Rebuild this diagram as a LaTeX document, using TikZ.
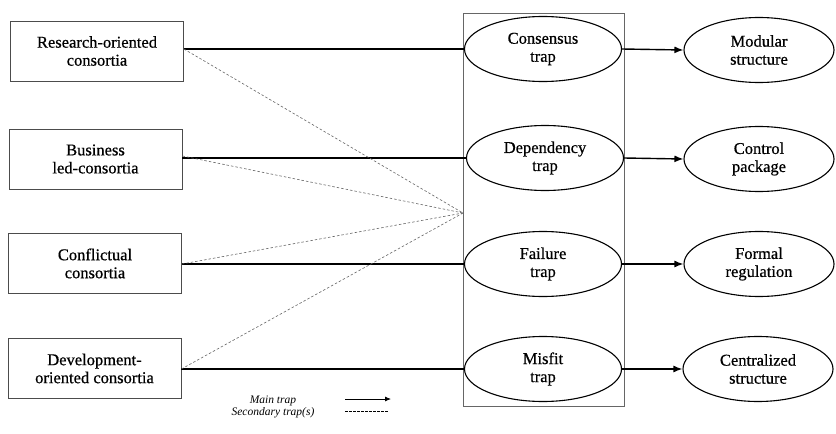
\documentclass[tikz,border=0pt]{standalone}
\usepackage{fontspec}
\setmainfont{Liberation Serif}
\newfontfamily\labelfont{Liberation Serif}[FakeBold=0.6]
\usetikzlibrary{shapes.geometric,arrows.meta}
\begin{document}
\begin{tikzpicture}[x=1pt,y=-1pt,
  srcbox/.style={draw=black!70,line width=0.8pt,rectangle,minimum width=173pt,minimum height=60pt,align=center,font=\labelfont\fontsize{16.5}{18}\selectfont,inner sep=0pt},
  trapell/.style={draw=black,line width=1.1pt,ellipse,minimum width=157pt,minimum height=65pt,align=center,font=\labelfont\fontsize{16.5}{18}\selectfont,inner sep=0pt},
  outell/.style={draw=black,line width=1.1pt,ellipse,minimum width=150pt,minimum height=65pt,align=center,font=\labelfont\fontsize{16.5}{18}\selectfont,inner sep=0pt},
  mainline/.style={draw=black,line width=1.4pt},
  mainarrow/.style={draw=black,line width=1.4pt,-{Latex[length=9pt,width=7pt]}},
  secline/.style={draw=black!60,line width=0.6pt,dash pattern=on 2.5pt off 2pt},
  legtext/.style={font=\fontsize{11.5}{12}\selectfont\itshape,inner sep=0pt}
]
\path[fill=white,use as bounding box] (0,0) rectangle (836,434);
\draw[draw=black!60,line width=0.8pt] (463,13) rectangle (624,406);

\node[srcbox] (r) at (97,51) {Research-oriented\\consortia};
\node[srcbox] (b) at (95.5,159) {Business\\led-consortia};
\node[srcbox] (c) at (95,263.5) {Conflictual\\consortia};
\node[srcbox] (d) at (94.5,368.5) {Development-\\oriented consortia};

\node[trapell] (t1) at (543,49) {Consensus\\trap};
\node[trapell] (t2) at (545,158) {Dependency\\trap};
\node[trapell] (t3) at (543,264) {Failure\\trap};
\node[trapell] (t4) at (543,369) {Misfit\\trap};

\node[outell] (o1) at (759,50) {Modular\\structure};
\node[outell] (o2) at (759,159) {Control\\package};
\node[outell] (o3) at (759,264) {Formal\\regulation};
\node[outell] (o4) at (758,369) {Centralized\\structure};

\coordinate (conv) at (463,213);

\draw[mainline] (r.east |- t1.west) -- (t1.west);
\draw[mainline] (b.east |- t2.west) -- (t2.west);
\draw[mainline] (c.east |- t3.west) -- (t3.west);
\draw[mainline] (d.east |- t4.west) -- (t4.west);

\draw[mainarrow] (t1.east) -- (o1.west);
\draw[mainarrow] (t2.east) -- (o2.west);
\draw[mainarrow] (t3.east) -- (o3.west);
\draw[mainarrow] (t4.east) -- (o4.west);

\draw[secline] (r.east |- t1.west) -- (conv);
\draw[secline] ([yshift=2pt]b.east |- t2.west) -- (conv);
\draw[secline] (c.east |- t3.west) -- (conv);
\draw[secline] (d.east |- t4.west) -- (conv);

\node[legtext,anchor=base] (l1) at (273,403) {Main trap};
\node[legtext,anchor=base] (l2) at (273,415) {Secondary trap(s)};
\coordinate (a1) at (345,399);
\coordinate (a2) at (391,399);
\coordinate (s1) at (345,411);
\coordinate (s2) at (389,411);
\draw[draw=black,line width=0.8pt,-{Latex[length=6pt,width=5pt]}] (a1) -- (a2);
\draw[draw=black,line width=0.8pt,dash pattern=on 2.5pt off 1.5pt] (s1) -- (s2);
\end{tikzpicture}
\end{document}
